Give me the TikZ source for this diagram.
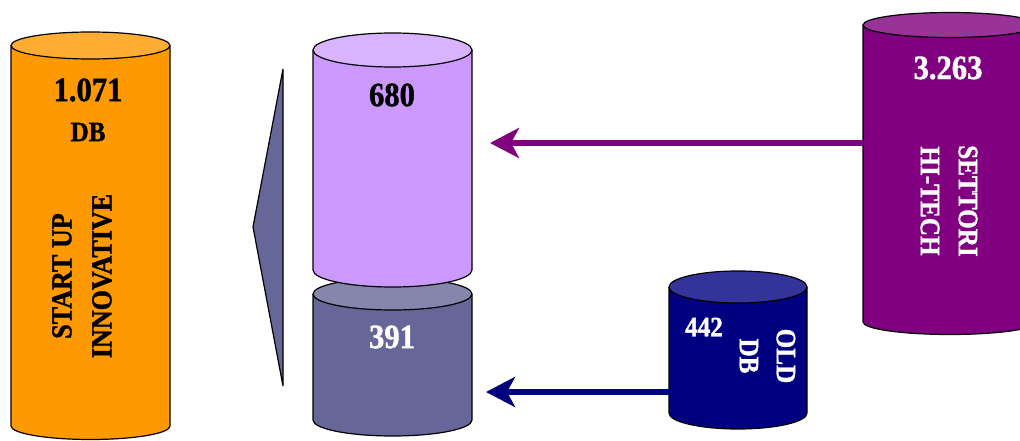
\documentclass[tikz,border=0pt]{standalone}
\usepackage{fontspec}
\setmainfont{Liberation Serif}
\newfontfamily\heavyfont[FakeStretch=0.9, BoldFeatures={FakeBold=1.2}]{Liberation Serif}
\usetikzlibrary{arrows.meta}

\definecolor{orangebody}{HTML}{FF9900}
\definecolor{orangecap}{HTML}{FFAD33}
\definecolor{lilacbody}{HTML}{CC99FF}
\definecolor{lilaccap}{HTML}{D9B3FF}
\definecolor{slatebody}{HTML}{666699}
\definecolor{slatecap}{HTML}{8585AD}
\definecolor{navybody}{HTML}{000080}
\definecolor{navycap}{HTML}{333399}
\definecolor{plumbody}{HTML}{800080}
\definecolor{plumcap}{HTML}{993399}

\tikzset{
  cylline/.style={draw=black, line width=1.2pt},
  anchorbox/.style={inner sep=0pt, outer sep=0pt, draw=none},
  bignum/.style={font=\heavyfont\bfseries\fontsize{34}{38}\selectfont},
  smallnum/.style={font=\heavyfont\bfseries\fontsize{28}{32}\selectfont},
  vlabel/.style={align=center},
  flow/.style={line width=5.5pt, -{Stealth[length=29pt, width=30pt, inset=8pt]}},
}

% #1 name, #2 centre x, #3 top ellipse y, #4 bottom ellipse y,
% #5 x radius, #6 y radius, #7 body colour, #8 cap colour
\newcommand\dbcyl[8]{%
  \fill[#7] (#2-#5,#3) -- (#2-#5,#4)
    arc[start angle=180, end angle=0, x radius=#5, y radius=#6] -- (#2+#5,#3) -- cycle;
  \draw[cylline] (#2-#5,#3) -- (#2-#5,#4)
    arc[start angle=180, end angle=0, x radius=#5, y radius=#6] -- (#2+#5,#3);
  \filldraw[cylline, fill=#8] (#2,#3) ellipse[x radius=#5, y radius=#6];
  \node[anchorbox, minimum width=2*#5, minimum height=#4-#3+2*#6] (#1) at (#2,{(#3+#4)/2}) {};
}

\begin{document}
\begin{tikzpicture}[x=1pt, y=-1pt]
  \useasboundingbox (0,0) rectangle (1020,441);
  \clip (0,0) rectangle (1020,441);

  % start-up cylinder
  \dbcyl{startup}{90.5}{45.5}{426}{79.5}{13.5}{orangebody}{orangecap}
  \node[bignum] (startupnum) at (88,90) {1.071};
  \node[font=\heavyfont\bfseries\fontsize{28}{32}\selectfont] (startupdb) at (88,132) {DB};
  \node[vlabel, rotate=90, font=\heavyfont\bfseries\fontsize{29}{40}\selectfont] (startuplabel) at (82,276) {START UP\\INNOVATIVE};

  % brace-like pointer
  \filldraw[cylline, fill=slatebody] (283,69) -- (253,227) -- (283,386) -- cycle;

  % pooled cylinders
  \dbcyl{oldpool}{392.5}{294}{420}{79.5}{16}{slatebody}{slatecap}
  \dbcyl{newpool}{392.5}{50}{270}{79.5}{17}{lilacbody}{lilaccap}
  \node[bignum] (newnum) at (392,95) {680};
  \node[bignum, text=white] (oldnum) at (392,337) {391};

  % old DB cylinder
  \dbcyl{olddb}{738}{287}{413}{69}{16}{navybody}{navycap}
  \node[smallnum, text=white] (olddbnum) at (704,327) {442};
  \node[vlabel, text=white, rotate=-90, font=\heavyfont\bfseries\fontsize{28}{37}\selectfont] (olddblabel) at (767.5,356) {OLD\\DB};

  % hi-tech cylinder
  \dbcyl{hitech}{950}{25}{322}{87}{12.5}{plumbody}{plumcap}
  \node[bignum, text=white] (hitechnum) at (948,68) {3.263};
  \node[vlabel, text=white, rotate=-90, font=\heavyfont\bfseries\fontsize{28}{38}\selectfont] (hitechlabel) at (949,201) {SETTORI\\HI-TECH};

  % flows into the pool
  \draw[flow, plumbody, shorten >=18pt] (hitech.west |- 0,143) -- (newpool.east |- 0,143);
  \draw[flow, navybody, shorten >=14pt] (olddb.west |- 0,392) -- (oldpool.east |- 0,392);
\end{tikzpicture}
\end{document}
